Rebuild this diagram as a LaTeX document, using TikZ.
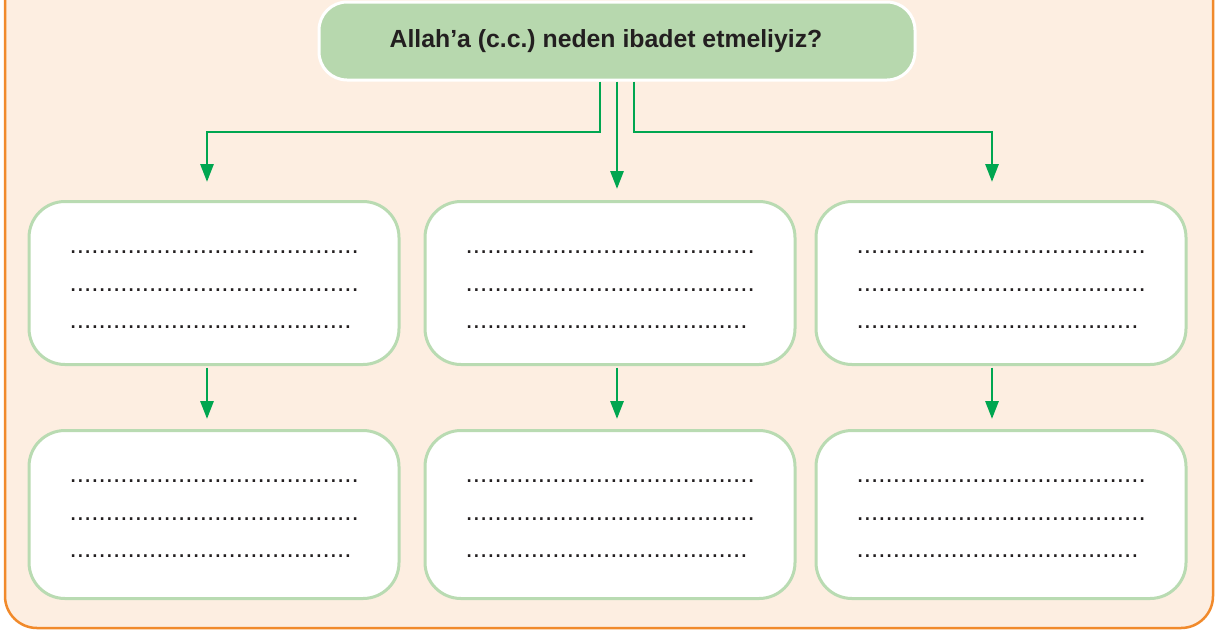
\documentclass[tikz,border=0pt]{standalone}
\usepackage{fontspec}
\setmainfont{Liberation Sans}
\usetikzlibrary{arrows.meta,calc}
\definecolor{bgc}{HTML}{FDEEE1}
\definecolor{orangec}{HTML}{F18A2B}
\definecolor{arrc}{HTML}{00A650}
\definecolor{boxc}{HTML}{B9DBB2}
\definecolor{titlec}{HTML}{B7D8AE}
\definecolor{textc}{HTML}{231F20}
\frenchspacing
\begin{document}
\begin{tikzpicture}[x=1pt,y=-1pt,
  titlebox/.style={draw=white,line width=3pt,fill=titlec,rounded corners=28pt,minimum width=596pt,minimum height=78pt,inner sep=0pt,font=\fontsize{24.8}{30}\bfseries\selectfont,text=textc},
  box/.style={draw=boxc,line width=3pt,fill=white,rounded corners=36pt,minimum width=370pt,minimum height=163pt,inner sep=0pt},
  dots/.style={font=\fontsize{26}{37.5}\selectfont,align=left,inner sep=0pt,text=textc},
  arr/.style={draw=arrc,line width=2.9pt,-{Triangle[length=18pt,width=13pt]}}]
\useasboundingbox (0,0) rectangle (1215,630);
\begin{scope}
\clip (0,0) rectangle (1215,630);
\draw[draw=orangec,fill=bgc,line width=2.5pt,rounded corners=32pt] (5,-40) rectangle (1213,628);
\end{scope}
\node[titlebox] (t) at (617,41) {Allah’a (c.c.) neden ibadet etmeliyiz?\hspace*{22pt}};
% boxes
\node[box] (b11) at (214,283) {};
\node[box] (b12) at (610,283) {};
\node[box] (b13) at (1001,283) {};
\node[box,minimum height=168pt] (b21) at (214,514.5) {};
\node[box,minimum height=168pt] (b22) at (610,514.5) {};
\node[box,minimum height=168pt] (b23) at (1001,514.5) {};
% dots
\def\dA{........................................}
\def\dB{.......................................}
\foreach \b in {b11,b12,b13,b21,b22,b23}{
  \node[dots,anchor=north west] (d\b) at ($(\b.north west)+(42,51)$) {\dA\\\dA\\\dB};
}
% connectors
\draw[arr] ([xshift=-17pt]t.south) |- (207,132) -- ([xshift=-7pt,yshift=18pt]b11.north);
\draw[arr] (t.south) -- ([xshift=7pt,yshift=11pt]b12.north);
\draw[arr] ([xshift=17pt]t.south) |- (992,132) -- ([xshift=-9pt,yshift=18pt]b13.north);
\draw[arr] ([xshift=-7pt,yshift=-1.5pt]b11.south) -- ([xshift=-7pt,yshift=10pt]b21.north);
\draw[arr] ([xshift=7pt,yshift=-1.5pt]b12.south) -- ([xshift=7pt,yshift=10pt]b22.north);
\draw[arr] ([xshift=-9pt,yshift=-1.5pt]b13.south) -- ([xshift=-9pt,yshift=10pt]b23.north);
\end{tikzpicture}
\end{document}
